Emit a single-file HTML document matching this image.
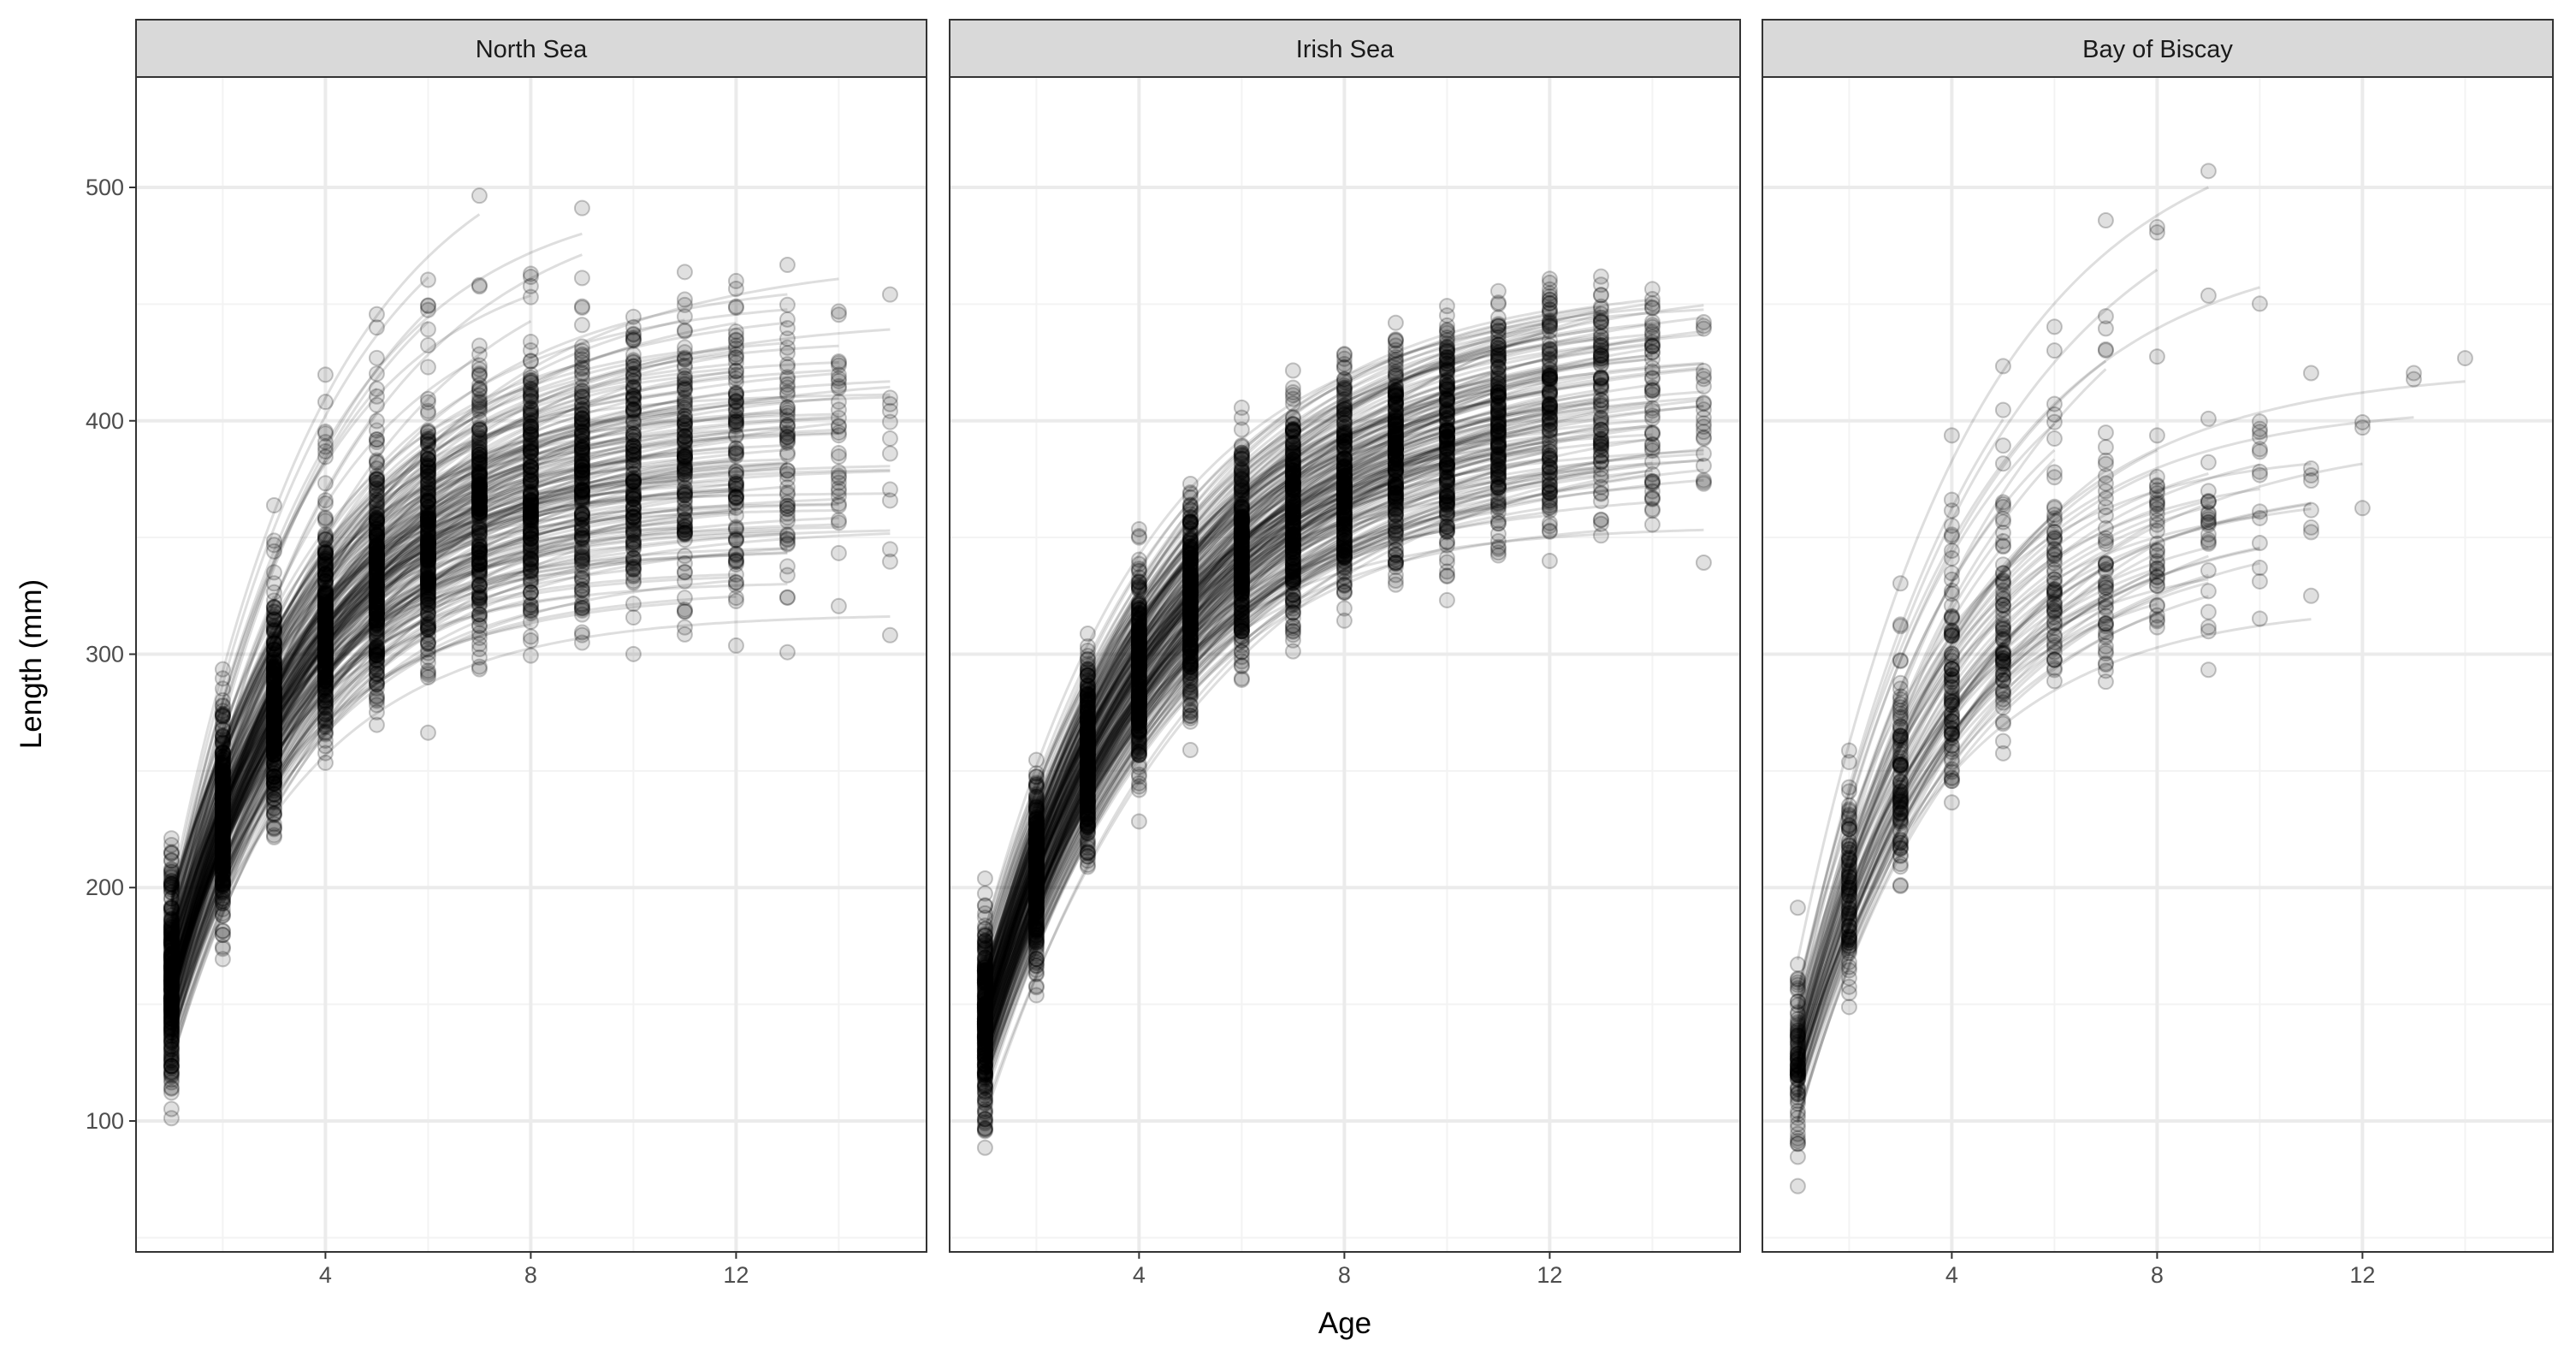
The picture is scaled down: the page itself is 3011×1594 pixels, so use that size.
<!DOCTYPE html>
<html><head><meta charset="utf-8"><style>
body{margin:0;background:#fff}
svg{display:block;font-family:"Liberation Sans",Arial,sans-serif}
</style></head><body>
<svg id="chart" width="3011" height="1594" viewBox="0 0 3011 1594" xmlns="http://www.w3.org/2000/svg">
<rect width="3011" height="1594" fill="#fff"/>
<text x="1572" y="1558" font-size="35" text-anchor="middle" fill="#000">Age</text>
<text transform="translate(48,776) rotate(-90)" font-size="35" text-anchor="middle" fill="#000">Length (mm)</text>
</svg>
<script>
const panelNames = ["North Sea", "Irish Sea", "Bay of Biscay"];
const yTicks = [100, 200, 300, 400, 500];
const xTicks = [4, 8, 12];
// von Bertalanffy parameters per individual fish
const nsLinf = [360,380,400,420,370,390,410,350,440,395,385,375,405,365,430,355,415,390,370,400,345,425,380,395,360,410,470,500,385,375,398,372,388,412,366,392];
const nsK = [0.38,0.35,0.33,0.30,0.40,0.36,0.32,0.42,0.30,0.34,0.37,0.39,0.31,0.41,0.29,0.36,0.33,0.35,0.38,0.34,0.40,0.31,0.36,0.33,0.37,0.32,0.35,0.33,0.36,0.38,0.35,0.37,0.34,0.33,0.39,0.36];
const nsT0 = [-0.5,-0.6,-0.4,-0.7,-0.3,-0.5,-0.8,-0.4,-0.6,-0.5,-0.3,-0.7,-0.6,-0.5,-0.4,-0.9,-0.5,-0.6,-0.4,-0.3,-0.7,-0.5,-0.8,-0.4,-0.6,-0.5,-0.3,-0.4,-0.6,-0.5,-0.7,-0.4,-0.5,-0.6,-0.3,-0.5];
const nsMax = [9,15,12,15,7,11,13,10,14,8,15,12,9,14,11,13,15,10,6,12,15,14,8,11,13,9,6,9,15,10,12,7,14,11,8,13];
const isLinf = [420,400,430,410,425,390,435,415,405,430,420,395,430,380,415,410,440,400,425,415,430,390,420,405,445,430,412,398,422,418,432,402,386,426,408,418];
const isK = [0.27,0.29,0.25,0.28,0.26,0.30,0.24,0.27,0.29,0.26,0.27,0.31,0.25,0.32,0.26,0.28,0.24,0.30,0.25,0.27,0.26,0.29,0.28,0.27,0.23,0.26,0.28,0.29,0.27,0.26,0.25,0.28,0.30,0.26,0.28,0.27];
const isT0 = [-0.6,-0.5,-0.7,-0.4,-0.6,-0.8,-0.5,-0.6,-0.3,-0.7,-0.5,-0.6,-0.4,-0.7,-0.9,-0.5,-0.6,-0.4,-0.7,-0.5,-0.3,-0.6,-0.5,-0.8,-0.6,-0.4,-0.6,-0.5,-0.7,-0.4,-0.6,-0.5,-0.6,-0.5,-0.7,-0.4];
const isMax = [15,12,15,10,14,9,13,15,11,15,8,12,14,7,15,11,13,10,15,9,12,15,14,6,13,15,11,10,15,12,14,8,15,13,11,15];
const bbLinf = [390,370,410,360,420,380,350,400,520,480,395,365,430,375,405,355,385,440,372,398,362,415,388];
const bbK = [0.30,0.32,0.28,0.34,0.29,0.31,0.35,0.30,0.27,0.28,0.31,0.33,0.29,0.30,0.28,0.34,0.31,0.27,0.32,0.30,0.33,0.29,0.31];
const bbT0 = [-0.3,-0.2,-0.4,-0.3,-0.1,-0.3,-0.4,-0.2,-0.3,-0.2,-0.4,-0.3,-0.2,-0.1,-0.3,-0.4,-0.2,-0.3,-0.3,-0.2,-0.4,-0.3,-0.2];
const bbMax = [8,11,7,10,6,9,11,5,10,7,14,8,6,11,9,4,7,5,10,8,11,6,9];
// variant multipliers (size and growth-rate variation among fish)
const linfMul = [0.92, 0.97, 1.0, 1.03, 1.07, 0.95, 1.0, 1.05];
const kMul = [1.12, 0.92, 1.0, 1.08, 0.88, 1.04, 0.96, 1.0];
const variantsPerPanel = [8, 8, 4];
const resid = [9,-14,5,-8,16,-3,-19,11,2,-10,14,-5,7,-17,0,19,-12,4,-7,12,-15,3,10,-5,-21,8,15,-2,-10,6];

const panelData = [
  {linf: nsLinf, k: nsK, t0: nsT0, max: nsMax},
  {linf: isLinf, k: isK, t0: isT0, max: isMax},
  {linf: bbLinf, k: bbK, t0: bbT0, max: bbMax}
];

const NS = "http://www.w3.org/2000/svg";
const svg = document.getElementById("chart");
const panelLefts = [159, 1110, 2060];
const PW = 924, PT = 90, PB = 1463;
const yMin = 43.9, yMax = 547.3, xMin = 0.31, xMax = 15.71;
function yS(v){ return PB - (v - yMin) / (yMax - yMin) * (PB - PT); }
function xS(a, left){ return left + (a - xMin) / (xMax - xMin) * PW; }
function el(tag, attrs){ const e = document.createElementNS(NS, tag); for (const k in attrs) e.setAttribute(k, attrs[k]); return e; }
function vb(L, k, t0, t){ return L * (1 - Math.exp(-k * (t - t0))); }

panelNames.forEach((name, p) => {
  const left = panelLefts[p];
  const g = el("g", {});
  
  
  svg.appendChild(g);
  [50,150,250,350,450,550].forEach(v => {
    if (v < yMin || v > yMax) return;
    const l = el("line", {x1: left, x2: left + PW, y1: yS(v), y2: yS(v), stroke: "#f3f3f3", "stroke-width": 2});
    
    
    g.appendChild(l);
  });
  [2,6,10,14].forEach(v => {
    const l = el("line", {x1: xS(v, left), x2: xS(v, left), y1: PT, y2: PB, stroke: "#f3f3f3", "stroke-width": 2});
    
    
    g.appendChild(l);
  });
  yTicks.forEach(v => {
    const l = el("line", {x1: left, x2: left + PW, y1: yS(v), y2: yS(v), stroke: "#ebebeb", "stroke-width": 4});
    
    
    g.appendChild(l);
  });
  xTicks.forEach(v => {
    const l = el("line", {x1: xS(v, left), x2: xS(v, left), y1: PT, y2: PB, stroke: "#ebebeb", "stroke-width": 4});
    
    
    g.appendChild(l);
  });
  const d = panelData[p];
  let ri = p * 7;
  const nv = variantsPerPanel[p];
  for (let vi = 0; vi < nv; vi++) {
    d.linf.forEach((L0, i) => {
      const L = L0 * linfMul[(vi + i) % linfMul.length];
      const k = d.k[i] * kMul[(vi + 2 * i) % kMul.length];
      const t0 = d.t0[i];
      const mx = Math.max(2, d.max[i] - ((vi * 3 + i) % 4));
      let pts = [];
      for (let t = 1; t <= mx + 0.001; t += 0.1) pts.push(xS(t, left).toFixed(1) + "," + yS(vb(L, k, t0, t)).toFixed(1));
      const line = el("polyline", {points: pts.join(" "), fill: "none", stroke: "#000", "stroke-opacity": 0.13, "stroke-width": 3});
      
      
      g.appendChild(line);
      for (let a = 1; a <= mx; a++) {
        const v = vb(L, k, t0, a) + resid[ri % resid.length] * (a === 1 ? 1.4 : 1.0);
        ri++;
        const c = el("circle", {cx: xS(a, left), cy: yS(v), r: 8.5, fill: "#000", "fill-opacity": 0.12, stroke: "#000", "stroke-opacity": 0.22, "stroke-width": 2});
        
        
        g.appendChild(c);
      }
    });
  }
  const border = el("rect", {x: left, y: PT, width: PW, height: PB - PT, fill: "none", stroke: "#333", "stroke-width": 2});
  
  
  g.appendChild(border);
  const strip = el("rect", {x: left, y: 23, width: PW, height: PT - 23, fill: "#d9d9d9", stroke: "#333", "stroke-width": 2});
  
  
  g.appendChild(strip);
  const st = el("text", {x: left + PW / 2, y: 67, "font-size": 29, "text-anchor": "middle", fill: "#1a1a1a"});
  st.textContent = name;
  
  
  g.appendChild(st);
  xTicks.forEach(v => {
    const tk = el("line", {x1: xS(v, left), x2: xS(v, left), y1: PB, y2: PB + 8, stroke: "#333", "stroke-width": 2});
    
    
    g.appendChild(tk);
    const t = el("text", {x: xS(v, left), y: PB + 36, "font-size": 27, "text-anchor": "middle", fill: "#4d4d4d"});
    t.textContent = v;
    
    
    g.appendChild(t);
  });
  if (p === 0) {
    yTicks.forEach(v => {
      const tk = el("line", {x1: left - 8, x2: left, y1: yS(v), y2: yS(v), stroke: "#333", "stroke-width": 2});
      
      
      g.appendChild(tk);
      const t = el("text", {x: left - 14, y: yS(v) + 9, "font-size": 27, "text-anchor": "end", fill: "#4d4d4d"});
      t.textContent = v;
      
      
      g.appendChild(t);
    });
  }
});
</script>
</body></html>
